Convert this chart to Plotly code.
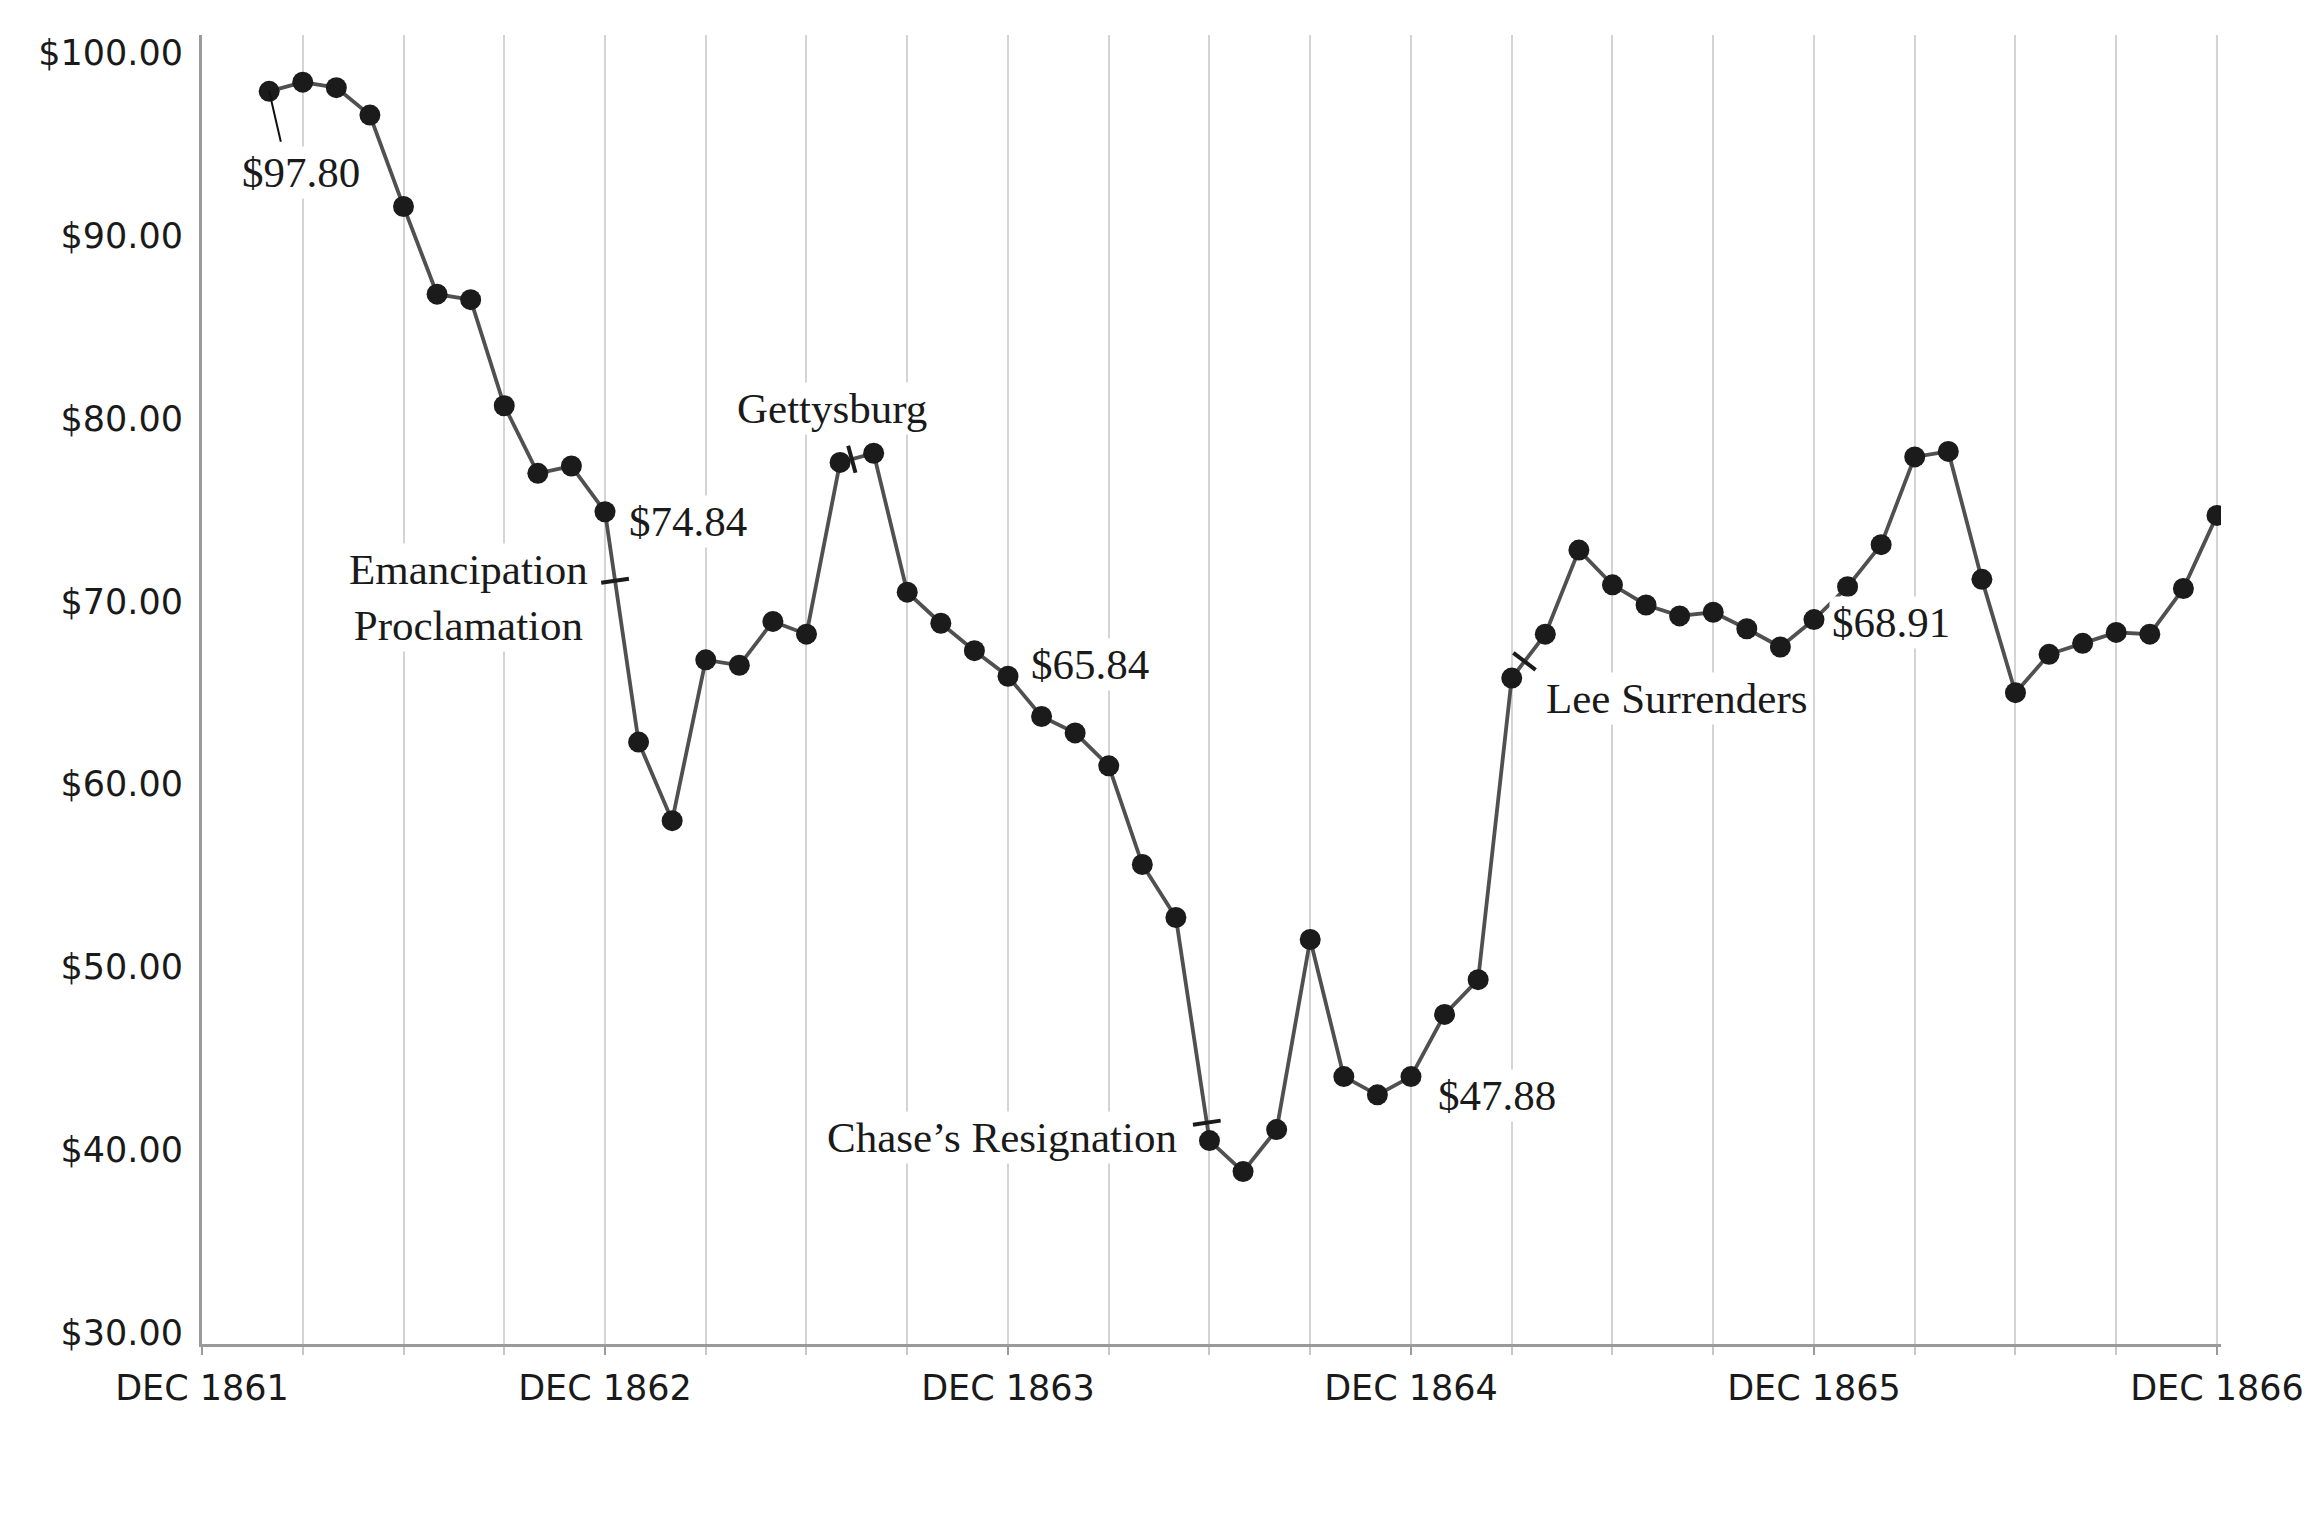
import math
import plotly.graph_objects as go

# ---- data ----
months = list(range(2, 61))  # months since Dec 1861
prices = [97.9, 98.4, 98.1, 96.6, 91.6, 86.8, 86.5, 80.7, 77.0, 77.4,
          74.9, 62.3, 58.0, 66.8, 66.5, 68.9, 68.2, 77.6, 78.1, 70.5,
          68.8, 67.3, 65.9, 63.7, 62.8, 61.0, 55.6, 52.7, 40.5, 38.8,
          41.1, 51.5, 44.0, 43.0, 44.0, 47.4, 49.3, 65.8, 68.2, 72.8,
          70.9, 69.8, 69.2, 69.4, 68.5, 67.5, 69.0, 70.8, 73.1, 77.9,
          78.2, 71.2, 65.0, 67.1, 67.7, 68.3, 68.2, 70.7, 74.7]

tick_vals = [0, 12, 24, 36, 48, 60]
tick_text = ["DEC 1861", "DEC 1862", "DEC 1863", "DEC 1864", "DEC 1865", "DEC 1866"]
year_lines = [12, 24, 36, 48, 60]
grid_vals = list(range(3, 61, 3))
y_ticks = [30, 40, 50, 60, 70, 80, 90, 100]
y_text = ["$30.00", "$40.00", "$50.00", "$60.00", "$70.00", "$80.00", "$90.00", "$100.00"]

# events: (label, segment start month, fraction along segment, label x, label y)
events = [
    ("Emancipation<br>Proclamation", 12, 0.30, 7.94, 70.2),
    ("Gettysburg", 19, 0.35, 18.77, 80.56),
    ("Chase’s Resignation", 29, 0.92, 23.82, 40.65),
    ("Lee Surrenders", 39, 0.38, 43.9, 64.68),
]
# value labels: (text, x, y)
value_labels = [
    ("$97.80", 2.94, 93.47),
    ("$74.84", 14.47, 74.35),
    ("$65.84", 26.45, 66.53),
    ("$47.88", 38.55, 42.98),
    ("$68.91", 50.3, 68.85),
]

W, H = 2311, 1513
ML, MR, MT, MB = 202, 90, 35, 169
XR = [0, 60.12]
YR = [29.37, 100.98]
px_x = (W - ML - MR) / (XR[1] - XR[0])
px_y = (H - MT - MB) / (YR[1] - YR[0])

LINE_COL = "#505050"
DOT_COL = "#1b1b1b"
SERIF = "Liberation Serif"
SANS = "DejaVu Sans"

fig = go.Figure()
fig.add_trace(go.Scatter(
    x=months, y=prices, mode="lines+markers",
    line=dict(color=LINE_COL, width=3.8),
    marker=dict(color=DOT_COL, size=21),
    hoverinfo="skip", showlegend=False))

# event marks on the line
ex, ey, ang = [], [], []
for label, m, f, lx, ly in events:
    i = months.index(m)
    x0, y0, x1, y1 = months[i], prices[i], months[i + 1], prices[i + 1]
    xm = x0 + f * (x1 - x0)
    ym = y0 + f * (y1 - y0)
    dxp = (x1 - x0) * px_x
    dyp = -(y1 - y0) * px_y
    theta = math.degrees(math.atan2(dyp, dxp))
    ex.append(xm); ey.append(ym); ang.append(theta + 90)
fig.add_trace(go.Scatter(
    x=ex, y=ey, mode="markers",
    marker=dict(symbol="line-ew", size=20, angle=ang,
                line=dict(color=DOT_COL, width=4)),
    hoverinfo="skip", showlegend=False))

shapes = [dict(type="line", xref="x", yref="paper", x0=v, x1=v, y0=0, y1=1,
               line=dict(color="#9a9a9a", width=2), layer="between")
          for v in year_lines]

annotations = []
for label, m, f, lx, ly in events:
    annotations.append(dict(x=lx, y=ly, text=label, showarrow=False,
                            font=dict(family=SERIF, size=43, color="#1a1a1a"),
                            bgcolor="white", borderpad=2))
for t, lx, ly in value_labels:
    annotations.append(dict(x=lx, y=ly, text=t, showarrow=False,
                            font=dict(family=SERIF, size=43, color="#1a1a1a"),
                            bgcolor="white", borderpad=2))
# leader line for the first value label
annotations.append(dict(x=months[0], y=prices[0], text="", showarrow=True,
                        arrowhead=0, arrowwidth=2, arrowcolor="#111111",
                        ax=12, ay=52, standoff=0))

fig.update_layout(
    width=W, height=H,
    margin=dict(l=ML, r=MR, t=MT, b=MB, autoexpand=False),
    paper_bgcolor="white", plot_bgcolor="white",
    shapes=shapes, annotations=annotations,
    xaxis=dict(range=XR, tickmode="array", tickvals=tick_vals, ticktext=tick_text,
               showgrid=False, automargin=False,
               showline=True, linecolor="#9a9a9a", linewidth=3,
               ticks="outside", ticklen=8, tickwidth=2, tickcolor="#9a9a9a",
               minor=dict(tickvals=grid_vals, showgrid=True, gridcolor="#d4d4d4",
                          gridwidth=2, ticks="outside", ticklen=8, tickwidth=2,
                          tickcolor="#c8c8c8"),
               tickfont=dict(family=SANS, size=35, color="#1a1a1a"),
               ticklabelstandoff=3, zeroline=False, fixedrange=True),
    yaxis=dict(range=YR, tickmode="array", tickvals=y_ticks, ticktext=y_text,
               showgrid=False, automargin=False,
               showline=True, linecolor="#9a9a9a", linewidth=3,
               ticks="", ticklabelstandoff=9,
               tickfont=dict(family=SANS, size=35, color="#1a1a1a"),
               zeroline=False, fixedrange=True),
)

fig.write_html("out.html")
